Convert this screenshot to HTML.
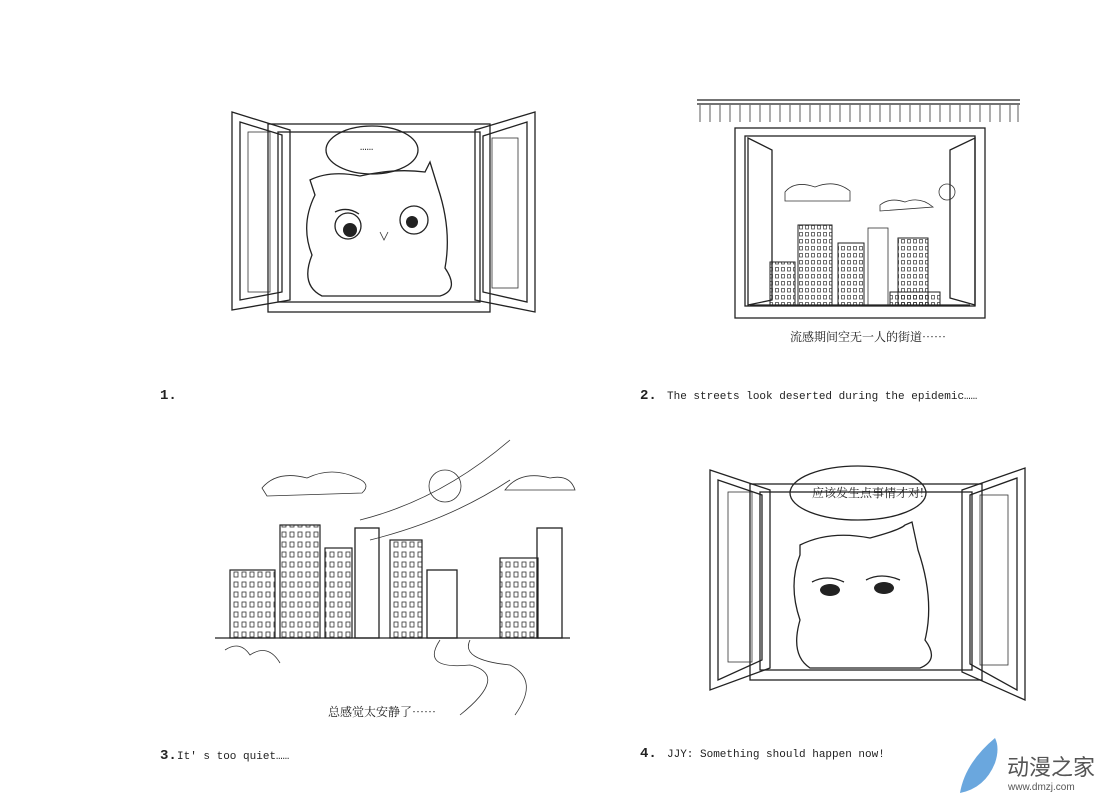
<!DOCTYPE html>
<html><head><meta charset="utf-8"><style>
html,body{margin:0;padding:0;background:#fff;}
svg{display:block}
text{font-family:"Liberation Mono","Noto Serif CJK SC",monospace;fill:#222}
.s{fill:none;stroke:#222;stroke-width:1.3}
.t{fill:none;stroke:#333;stroke-width:0.8}
.w{fill:url(#win);stroke:#222;stroke-width:1.2}
.w2{fill:url(#win2);stroke:#222;stroke-width:1}
.cn{font-family:"Noto Serif CJK SC","Liberation Serif",serif}
</style></head><body>
<svg width="1120" height="800" viewBox="0 0 1120 800" xmlns="http://www.w3.org/2000/svg">
<defs>
<pattern id="win" width="8" height="10" patternUnits="userSpaceOnUse"><rect x="2" y="2" width="4" height="5" fill="none" stroke="#333" stroke-width="0.8"/></pattern>
<pattern id="win2" width="6" height="7" patternUnits="userSpaceOnUse"><rect x="1.5" y="1.5" width="3" height="3.5" fill="none" stroke="#333" stroke-width="0.7"/></pattern>
</defs>
<rect width="1120" height="800" fill="#fff"/>
<!-- Panel 1 -->
<g>
<rect class="s" x="268" y="124" width="222" height="188"/>
<rect class="s" x="278" y="132" width="202" height="170"/>
<polygon class="s" points="232,112 290,130 290,300 232,310"/>
<polygon class="s" points="240,122 282,135 282,292 240,300"/>
<rect class="t" x="248" y="132" width="22" height="160"/>
<polygon class="s" points="475,130 535,112 535,312 475,300"/>
<polygon class="s" points="483,136 527,122 527,302 483,292"/>
<rect class="t" x="492" y="138" width="26" height="150"/>
<path class="s" d="M310,180 Q330,170 360,176 Q395,168 425,172 L430,162 L438,188 Q452,230 445,268 Q460,290 440,296 L322,296 Q300,285 312,255 Q300,225 315,195 Z"/>
<ellipse class="s" cx="372" cy="150" rx="46" ry="24" fill="#fff"/>
<text x="360" y="150" font-size="11">……</text>
<circle class="s" cx="348" cy="226" r="13"/><circle cx="350" cy="230" r="7" fill="#222"/>
<circle class="s" cx="414" cy="220" r="14"/><circle cx="412" cy="222" r="6" fill="#222"/>
<path class="s" d="M335,212 q12,-6 24,2"/>
<path class="t" d="M380,232 l4,8 l4,-8"/>
</g>
<text x="160" y="399" font-size="14" font-weight="bold" font-family="Liberation Serif,serif">1.</text>
<!-- Panel 2 -->
<g>
<line class="s" x1="697" y1="100" x2="1020" y2="100"/>
<line class="s" x1="697" y1="104" x2="1020" y2="104"/>
<path class="t" d="M700,105 L700,122 M710,105 L710,122 M720,105 L720,122 M730,105 L730,122 M740,105 L740,122 M750,105 L750,122 M760,105 L760,122 M770,105 L770,122 M780,105 L780,122 M790,105 L790,122 M800,105 L800,122 M810,105 L810,122 M820,105 L820,122 M830,105 L830,122 M840,105 L840,122 M850,105 L850,122 M860,105 L860,122 M870,105 L870,122 M880,105 L880,122 M890,105 L890,122 M900,105 L900,122 M910,105 L910,122 M920,105 L920,122 M930,105 L930,122 M940,105 L940,122 M950,105 L950,122 M960,105 L960,122 M970,105 L970,122 M980,105 L980,122 M990,105 L990,122 M1000,105 L1000,122 M1010,105 L1010,122 M1018,105 L1018,122"/>
<rect class="s" x="735" y="128" width="250" height="190"/>
<rect class="s" x="745" y="136" width="230" height="170"/>
<polygon class="s" points="748,138 772,150 772,300 748,305"/>
<polygon class="s" points="950,150 975,138 975,305 950,298"/>
<path class="t" d="M785,192 q10,-12 30,-5 q20,-8 35,4 l0,10 l-65,0 z"/>
<path class="t" d="M880,205 q10,-8 25,-3 q15,-6 28,5 l-53,4z"/>
<circle class="t" cx="947" cy="192" r="8"/>
<rect class="w2" x="798" y="225" width="34" height="80"/>
<rect class="w2" x="838" y="243" width="26" height="62"/>
<rect class="t" x="868" y="228" width="20" height="77"/>
<rect class="w2" x="898" y="238" width="30" height="67"/>
<rect class="w2" x="770" y="262" width="25" height="43"/>
<rect class="w2" x="890" y="292" width="50" height="13"/>
<line class="s" x1="750" y1="305" x2="970" y2="305"/>
</g>
<text x="790" y="341" font-size="12" class="cn">流感期间空无一人的街道……</text>
<text x="640" y="399" font-size="14" font-weight="bold" font-family="Liberation Serif,serif">2.</text>
<text x="667" y="399" font-size="11">The streets look deserted during the epidemic……</text>
<!-- Panel 3 -->
<g>
<path class="t" d="M262,488 q15,-18 45,-10 q25,-12 50,0 q15,6 5,15 l-95,3z"/>
<path class="t" d="M505,490 q15,-20 45,-12 q20,-4 25,12 z"/>
<circle class="t" cx="445" cy="486" r="16"/>
<rect class="w" x="230" y="570" width="45" height="68"/>
<rect class="w" x="280" y="525" width="40" height="113"/>
<rect class="w" x="325" y="548" width="27" height="90"/>
<rect class="s" x="355" y="528" width="24" height="110"/>
<rect class="w" x="390" y="540" width="32" height="98"/>
<rect class="s" x="427" y="570" width="30" height="68"/>
<rect class="w" x="500" y="558" width="38" height="80"/>
<rect class="s" x="537" y="528" width="25" height="110"/>
<line class="s" x1="215" y1="638" x2="570" y2="638"/>
<path class="t" d="M225,650 q15,-10 25,5 q18,-12 30,8 M440,640 q-20,30 30,25 q40,10 -10,50 M470,640 q-10,20 40,25 q30,15 5,50"/>
<path class="t" d="M360,520 q80,-20 150,-80 M370,540 q80,-20 140,-60"/>
</g>
<text x="328" y="716" font-size="12" class="cn">总感觉太安静了……</text>
<text x="160" y="759" font-size="14" font-weight="bold" font-family="Liberation Serif,serif">3.</text>
<text x="177" y="759" font-size="11">It' s too quiet……</text>
<!-- Panel 4 -->
<g>
<rect class="s" x="750" y="484" width="232" height="196"/>
<rect class="s" x="760" y="492" width="212" height="178"/>
<polygon class="s" points="710,470 770,490 770,668 710,690"/>
<polygon class="s" points="718,480 762,495 762,660 718,680"/>
<rect class="t" x="728" y="492" width="24" height="170"/>
<polygon class="s" points="962,490 1025,468 1025,700 962,672"/>
<polygon class="s" points="970,495 1017,478 1017,690 970,664"/>
<rect class="t" x="980" y="495" width="28" height="170"/>
<path class="s" d="M800,545 Q830,530 870,538 Q900,530 905,525 L912,522 L918,550 Q935,600 925,640 Q940,660 920,668 L810,668 Q790,655 800,620 Q788,585 800,555 Z"/>
<ellipse class="s" cx="858" cy="493" rx="68" ry="27" fill="#fff"/>
<text x="812" y="497" font-size="12" class="cn">应该发生点事情才对!</text>
<path class="s" d="M812,582 q15,-8 32,0 M866,580 q15,-8 34,0"/>
<ellipse cx="830" cy="590" rx="10" ry="6" fill="#222"/>
<ellipse cx="884" cy="588" rx="10" ry="6" fill="#222"/>
</g>
<text x="640" y="757" font-size="14" font-weight="bold" font-family="Liberation Serif,serif">4.</text>
<text x="667" y="757" font-size="11">JJY: Something should happen now!</text>
<!-- logo -->
<path d="M995,738 q-30,25 -35,55 q25,-5 35,-30 q5,-15 0,-25z" fill="#6aa7de"/>
<text x="1007" y="775" font-size="22" style="fill:#555;font-family:'Noto Sans CJK SC',sans-serif">动漫之家</text>
<text x="1008" y="790" font-size="10" style="fill:#555;font-family:'Liberation Sans',sans-serif">www.dmzj.com</text>
</svg>
</body></html>
